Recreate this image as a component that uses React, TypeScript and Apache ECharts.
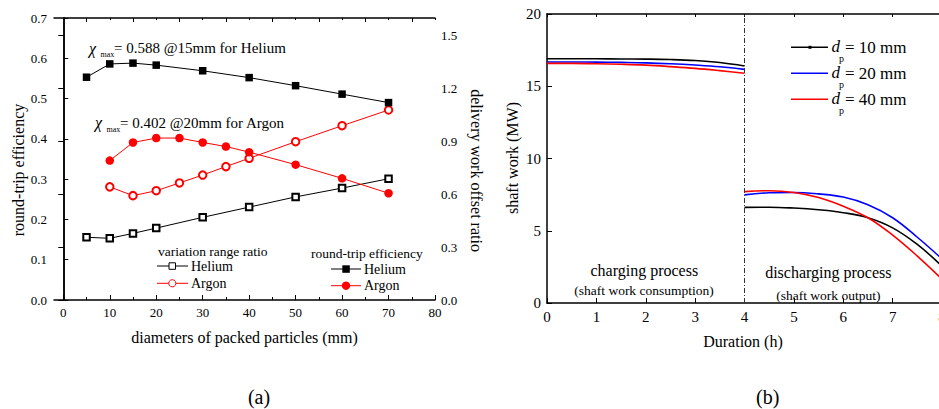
import React, { useEffect, useRef } from "react";
import * as echarts from "echarts";

// ---------- Data (a) ----------
const heliumDiameters = [5, 10, 15, 20, 30, 40, 50, 60, 70];
const argonDiameters = [10, 15, 20, 25, 30, 35, 40, 50, 60, 70];
const heliumEfficiency = [0.553, 0.586, 0.588, 0.583, 0.569, 0.552, 0.532, 0.511, 0.49];
const argonEfficiency = [0.346, 0.391, 0.402, 0.402, 0.391, 0.381, 0.367, 0.336, 0.302, 0.265];
const heliumRatio = [0.356, 0.35, 0.378, 0.408, 0.469, 0.527, 0.585, 0.635, 0.688];
const argonRatio = [0.642, 0.592, 0.62, 0.664, 0.709, 0.757, 0.804, 0.898, 0.989, 1.078];
const xTicksA = [0, 10, 20, 30, 40, 50, 60, 70, 80];
const xMinorTicksA = [5, 15, 25, 35, 45, 55, 65, 75];

// ---------- Data (b) ----------
const chargeHours = [0, 0.5, 1, 1.5, 2, 2.5, 3, 3.5, 4];
const dischargeHours = [4, 4.5, 5, 5.5, 6, 6.5, 7, 7.5, 8];
const charge10 = [16.9, 16.9, 16.9, 16.89, 16.88, 16.85, 16.78, 16.64, 16.4];
const charge20 = [16.68, 16.68, 16.67, 16.65, 16.62, 16.56, 16.47, 16.35, 16.17];
const charge40 = [16.58, 16.58, 16.56, 16.52, 16.46, 16.36, 16.24, 16.08, 15.9];
const discharge10 = [6.62, 6.63, 6.57, 6.45, 6.25, 5.9, 5.2, 4.05, 2.55];
const discharge20 = [7.48, 7.63, 7.65, 7.55, 7.33, 6.8, 5.9, 4.55, 3.05];
const discharge40 = [7.71, 7.77, 7.65, 7.3, 6.7, 5.9, 4.7, 3.25, 1.65];

const FONT = "Liberation Serif";
const BLACK = "#000";
const RED = "#ff0000";
const BLUE = "#0000ff";

const pairs = (xs: number[], ys: number[]) => xs.map((x, i) => [x, ys[i]]);
const twoPhase = (c: number[], d: number[]) =>
  [...pairs(chargeHours, c), [4, "-"], ...pairs(dischargeHours, d)];

const txt = (
  x: number,
  y: number,
  text: string,
  size: number,
  o: { align?: string; italic?: boolean; rot?: number; fill?: string } = {}
) => ({
  type: "text",
  x,
  y,
  rotation: o.rot ?? 0,
  silent: true,
  style: {
    text,
    font: `${o.italic ? "italic " : ""}${size}px ${FONT}`,
    fill: o.fill ?? BLACK,
    align: o.align ?? "left",
    textAlign: o.align ?? "left",
    verticalAlign: "middle",
    textVerticalAlign: "middle",
  },
});

const hline = (x1: number, x2: number, y: number, color: string, w = 1) => ({
  type: "line",
  silent: true,
  shape: { x1, y1: y, x2, y2: y },
  style: { stroke: color, lineWidth: w },
});

const axisLineStyle = { lineStyle: { color: BLACK, width: 1.5 } };
const tickStyle = { color: BLACK, width: 1 };
const labelStyle = (size: number, margin: number) => ({
  color: BLACK,
  fontFamily: FONT,
  fontSize: size,
  margin,
});

export default function App() {
  const ref = useRef<HTMLDivElement>(null);
  useEffect(() => {
    document.body.style.margin = "0";
    const chart = echarts.init(ref.current!, undefined, { renderer: "svg" });
    const option: any = {
      animation: false,
      backgroundColor: "#fff",
      textStyle: { fontFamily: FONT },
      grid: [
        { left: 54, width: 381, top: 18, height: 282, outerBoundsMode: "none", containLabel: false },
        { left: 547, width: 395, top: 14, height: 289, outerBoundsMode: "none", containLabel: false },
      ],
      xAxis: [
        {
          gridIndex: 0, type: "value", position: "bottom", min: -2, max: 80,
          axisLine: axisLineStyle,
          axisTick: { inside: true, length: 5, customValues: xTicksA, lineStyle: tickStyle },
          axisLabel: { ...labelStyle(13, 6), customValues: xTicksA },
          splitLine: { show: false },
        },
        {
          gridIndex: 0, type: "value", position: "bottom", min: -2, max: 80,
          axisLine: { show: false },
          axisTick: { inside: true, length: 3, customValues: xMinorTicksA, lineStyle: tickStyle },
          axisLabel: { show: false },
          splitLine: { show: false },
        },
        {
          gridIndex: 0, type: "value", position: "top", min: -2, max: 80,
          axisLine: axisLineStyle,
          axisTick: { inside: true, length: 4, customValues: xMinorTicksA, lineStyle: tickStyle },
          axisLabel: { show: false },
          splitLine: { show: false },
        },
        {
          gridIndex: 0, type: "value", position: "top", min: -2, max: 80,
          axisLine: { show: false },
          axisTick: { inside: true, length: 2, customValues: xTicksA, lineStyle: tickStyle },
          axisLabel: { show: false },
          splitLine: { show: false },
        },
        {
          gridIndex: 1, type: "value", position: "bottom", min: 0, max: 8, interval: 1,
          axisLine: axisLineStyle,
          axisTick: { inside: true, length: 5, lineStyle: tickStyle },
          axisLabel: labelStyle(15, 6),
          splitLine: { show: false },
        },
        {
          gridIndex: 1, type: "value", position: "top", min: 0, max: 8, interval: 1,
          axisLine: axisLineStyle,
          axisTick: { inside: true, length: 3, lineStyle: tickStyle },
          axisLabel: { show: false },
          splitLine: { show: false },
        },
      ],
      yAxis: [
        {
          gridIndex: 0, type: "value", position: "left", min: 0, max: 0.7, interval: 0.1,
          axisLine: { show: true, ...axisLineStyle },
          axisTick: { show: true, inside: true, length: 5, lineStyle: tickStyle },
          axisLabel: { ...labelStyle(13, 7), formatter: (v: number) => v.toFixed(1) },
          splitLine: { show: false },
        },
        {
          gridIndex: 0, type: "value", position: "right", min: 0, max: 1.6, interval: 0.3,
          axisLine: { show: true, ...axisLineStyle },
          axisTick: { show: true, inside: true, length: 5, lineStyle: tickStyle },
          axisLabel: {
            ...labelStyle(13, 6),
            showMaxLabel: false,
            formatter: (v: number) => (Math.abs(v - 1.6) < 1e-6 ? "" : v.toFixed(1)),
          },
          splitLine: { show: false },
        },
        {
          gridIndex: 1, type: "value", position: "left", min: 0, max: 20, interval: 5,
          axisLine: { show: true, ...axisLineStyle },
          axisTick: { show: true, inside: true, length: 5, lineStyle: tickStyle },
          axisLabel: labelStyle(15, 6),
          splitLine: { show: false },
        },
      ],
      series: [
        {
          name: "Helium variation range ratio", type: "line", xAxisIndex: 0, yAxisIndex: 1,
          data: pairs(heliumDiameters, heliumRatio),
          symbol: "emptyRect", symbolSize: 6.5,
          itemStyle: { color: BLACK, borderWidth: 1 },
          lineStyle: { color: BLACK, width: 1 },
        },
        {
          name: "Argon variation range ratio", type: "line", xAxisIndex: 0, yAxisIndex: 1,
          data: pairs(argonDiameters, argonRatio),
          symbol: "emptyCircle", symbolSize: 7.5,
          itemStyle: { color: RED, borderWidth: 1 },
          lineStyle: { color: RED, width: 1 },
        },
        {
          name: "Helium round-trip efficiency", type: "line", xAxisIndex: 0, yAxisIndex: 0,
          data: pairs(heliumDiameters, heliumEfficiency),
          symbol: "rect", symbolSize: 7.5,
          itemStyle: { color: BLACK },
          lineStyle: { color: BLACK, width: 1 },
        },
        {
          name: "Argon round-trip efficiency", type: "line", xAxisIndex: 0, yAxisIndex: 0,
          data: pairs(argonDiameters, argonEfficiency),
          symbol: "circle", symbolSize: 8.5,
          itemStyle: { color: RED },
          lineStyle: { color: RED, width: 1 },
        },
        {
          name: "dp = 10 mm", type: "line", xAxisIndex: 4, yAxisIndex: 2,
          data: twoPhase(charge10, discharge10),
          symbol: "none", smooth: 0.4, connectNulls: false,
          lineStyle: { color: BLACK, width: 1.6 },
          markLine: {
            silent: true,
            symbol: ["none", "none"],
            label: { show: false },
            lineStyle: { color: "#333", width: 1, type: [5, 2, 1, 2] },
            data: [{ xAxis: 4 }],
          },
        },
        {
          name: "dp = 20 mm", type: "line", xAxisIndex: 4, yAxisIndex: 2,
          data: twoPhase(charge20, discharge20),
          symbol: "none", smooth: 0.4, connectNulls: false,
          lineStyle: { color: BLUE, width: 1.6 },
        },
        {
          name: "dp = 40 mm", type: "line", xAxisIndex: 4, yAxisIndex: 2,
          data: twoPhase(charge40, discharge40),
          symbol: "none", smooth: 0.4, connectNulls: false,
          lineStyle: { color: RED, width: 1.6 },
        },
      ],
      graphic: [
        // axis names (a)
        txt(244.5, 337, "diameters of packed particles (mm)", 16, { align: "center" }),
        txt(18, 170, "round-trip efficiency", 16, { align: "center", rot: Math.PI / 2 }),
        txt(476, 170.5, "delivery work offset ratio", 16, { align: "center", rot: -Math.PI / 2 }),
        // axis names (b)
        txt(743, 341.7, "Duration (h)", 16, { align: "center" }),
        txt(512, 158, "shaft work (MW)", 16, { align: "center", rot: Math.PI / 2 }),
        // captions
        txt(259, 396.7, "(a)", 20, { align: "center" }),
        txt(767.7, 396.7, "(b)", 20, { align: "center" }),
        // annotations (a)
        txt(89, 48.3, "χ", 16, { italic: true }),
        txt(100.5, 54.5, "max", 8),
        txt(114, 48.3, "= 0.588 @15mm for Helium", 15),
        txt(95, 122.7, "χ", 16, { italic: true }),
        txt(106.5, 129, "max", 8),
        txt(120, 122.7, "= 0.402 @20mm for Argon", 15),
        // legend (a) left block
        txt(158, 251, "variation range ratio", 13.5),
        hline(157, 188, 266, BLACK),
        { type: "rect", silent: true, shape: { x: 169, y: 262.8, width: 6.5, height: 6.5 }, style: { fill: "#fff", stroke: BLACK, lineWidth: 1 } },
        txt(191, 266, "Helium", 14),
        hline(157, 188, 283.3, RED),
        { type: "circle", silent: true, shape: { cx: 172.3, cy: 283.3, r: 3.6 }, style: { fill: "#fff", stroke: RED, lineWidth: 1 } },
        txt(191, 283.3, "Argon", 14),
        // legend (a) right block
        txt(311, 253.3, "round-trip efficiency", 13.5),
        hline(331, 361, 269, BLACK),
        { type: "rect", silent: true, shape: { x: 342.3, y: 265.3, width: 7.5, height: 7.5 }, style: { fill: BLACK } },
        txt(364, 269, "Helium", 14),
        hline(331, 361, 285.7, RED),
        { type: "circle", silent: true, shape: { cx: 346, cy: 285.7, r: 4.2 }, style: { fill: RED } },
        txt(364, 285.7, "Argon", 14),
        // legend (b)
        hline(791, 828, 47.3, BLACK, 1.5),
        { type: "rect", silent: true, shape: { x: 808.5, y: 45.8, width: 3, height: 3 }, style: { fill: BLACK } },
        txt(831.5, 46.5, "d", 17, { italic: true }),
        txt(839, 58, "p", 10),
        txt(845, 47.3, "= 10 mm", 17),
        hline(791, 828, 73.3, BLUE, 1.5),
        txt(831.5, 72.5, "d", 17, { italic: true }),
        txt(839, 84, "p", 10),
        txt(845, 73.3, "= 20 mm", 17),
        hline(791, 828, 99.3, RED, 1.5),
        txt(831.5, 98.5, "d", 17, { italic: true }),
        txt(839, 110, "p", 10),
        txt(845, 99.3, "= 40 mm", 17),
        // process labels (b)
        txt(644.3, 270, "charging process", 16, { align: "center" }),
        txt(644, 290.7, "(shaft work consumption)", 13.5, { align: "center" }),
        txt(828.3, 272.7, "discharging process", 16, { align: "center" }),
        txt(828.3, 295, "(shaft work output)", 13.5, { align: "center" }),
      ],
    };
    chart.setOption(option);
    return () => chart.dispose();
  }, []);
  return <div ref={ref} style={{ width: 939, height: 409 }} />;
}
